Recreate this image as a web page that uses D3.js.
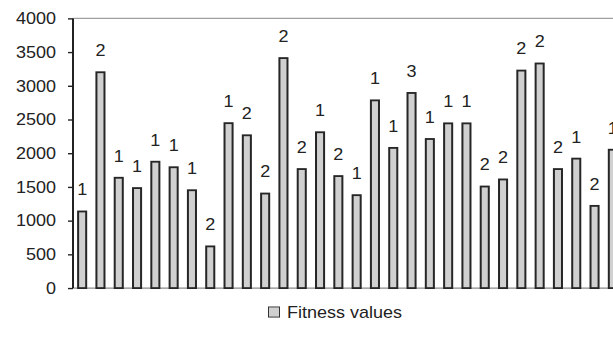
<!DOCTYPE html>
<html>
<head>
<meta charset="utf-8">
<script src="https://cdn.jsdelivr.net/npm/d3@7"></script>
<style>
  html, body { margin: 0; padding: 0; background: #fff; }
  svg { display: block; }
  text { font-family: "Liberation Sans", Arial, sans-serif; fill: #222; }
</style>
</head>
<body>
<svg id="chart" width="613" height="347"></svg>
<script>
const categories = d3.range(1, 31).map(String);
const fitnessValues = [1150, 3215, 1650, 1497, 1888, 1806, 1465, 632, 2460, 2280,
                       1416, 3425, 1779, 2325, 1675, 1392, 2798, 2093, 2908, 2225,
                       2457, 2457, 1520, 1625, 3240, 3345, 1779, 1934, 1233, 2066];
const barLabels = ["1","2","1","1","1","1","1","2","1","2",
                   "2","2","2","1","2","1","1","1","3","1",
                   "1","1","2","2","2","2","2","1","2","1"];
const yTicks = [0, 500, 1000, 1500, 2000, 2500, 3000, 3500, 4000];
const seriesName = "Fitness values";

// the source figure is drawn on a 613x377 canvas, shown squeezed into 613x347
const W = 613, H = 347, srcH = 377;
const svg = d3.select("#chart");
const root = svg.append("g").attr("transform", `scale(1, ${H / srcH})`);

const plotLeft = 73, plotTop = 20, plotBottom = 313;
const step = 18.3;
const plotRight = plotLeft + step * categories.length;

const x = d3.scaleBand().domain(categories).range([plotLeft, plotRight])
  .paddingInner(0.45).paddingOuter(0.225);
const y = d3.scaleLinear().domain([0, 4000]).range([plotBottom, plotTop]);

// top border line
root.append("line")
  .attr("x1", plotLeft).attr("x2", W)
  .attr("y1", y(4000)).attr("y2", y(4000))
  .attr("stroke", "#a0a0a0").attr("stroke-width", 1.5);

// baseline
root.append("line")
  .attr("x1", plotLeft).attr("x2", W)
  .attr("y1", y(0)).attr("y2", y(0))
  .attr("stroke", "#8a8a8a").attr("stroke-width", 1.5);

// bars
const bw = x.bandwidth();
root.append("g").selectAll("rect")
  .data(fitnessValues)
  .join("rect")
  .attr("x", (d, i) => x(categories[i]) + 1)
  .attr("width", bw - 2)
  .attr("y", d => y(d) + 1)
  .attr("height", d => y(0) - y(d) - 1)
  .attr("fill", "#d0d0d0")
  .attr("stroke", "#262626")
  .attr("stroke-width", 2);

// bar labels
root.append("g").selectAll("text")
  .data(fitnessValues)
  .join("text")
  .attr("x", (d, i) => x(categories[i]) + bw / 2)
  .attr("y", d => y(d) - 16.5)
  .attr("text-anchor", "middle")
  .attr("font-size", 18)
  .text((d, i) => barLabels[i]);

// y axis
const yAxis = d3.axisLeft(y).tickValues(yTicks).tickSize(5).tickPadding(12)
  .tickFormat(d3.format("d"));
const gy = root.append("g").attr("transform", `translate(${plotLeft},0)`).call(yAxis);
gy.select(".domain").attr("stroke", "#222").attr("stroke-width", 2)
  .attr("d", `M0,${plotTop}V${plotBottom}`);
gy.selectAll(".tick line").attr("stroke", "#222").attr("stroke-width", 1.5);
gy.selectAll(".tick text").attr("font-size", 18).attr("fill", "#222")
  .style("font-family", "'Liberation Sans', Arial, sans-serif");

// legend
const lg = root.append("g");
lg.append("rect").attr("x", 268.5).attr("y", 333.5).attr("width", 11).attr("height", 11)
  .attr("fill", "#d0d0d0").attr("stroke", "#333").attr("stroke-width", 1);
lg.append("text").attr("x", 287).attr("y", 346).attr("font-size", 18).text(seriesName);
</script>
</body>
</html>
